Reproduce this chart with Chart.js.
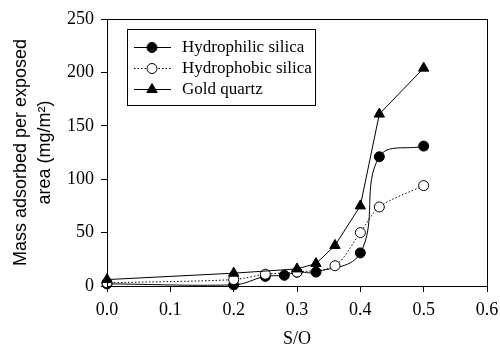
<!DOCTYPE html>
<html>
<head>
<meta charset="utf-8">
<script src="https://cdn.jsdelivr.net/npm/chart.js@4/dist/chart.umd.min.js"></script>
<style>
  html, body { margin: 0; padding: 0; background: #fff; }
  #wrap { width: 500px; height: 348px; position: relative; }
</style>
</head>
<body>
<div id="wrap"><canvas id="chart"></canvas></div>
<script>
// S/O ratios and adsorbed mass (mg/m2)
const philicX = [0, 0.2, 0.25, 0.28, 0.30, 0.33, 0.40, 0.43, 0.50]
const philicY = [2, 1, 9, 10, 13, 13, 31, 121, 131]
const phobicX = [0, 0.2, 0.25, 0.30, 0.36, 0.40, 0.43, 0.50]
const phobicY = [3, 6, 11, 13, 19, 50, 74, 94]
const goldX = [0, 0.2, 0.30, 0.33, 0.36, 0.40, 0.43, 0.50]
const goldY = [6, 12, 16, 21, 38, 75, 161, 204]

const seriesLabels = ["Hydrophilic silica", "Hydrophobic silica", "Gold quartz"]
const xTicks = [0, 0.1, 0.2, 0.3, 0.4, 0.5, 0.6]
const yTicks = [0, 50, 100, 150, 200, 250]
const yTitle = ["Mass adsorbed per exposed", "area (mg/m\u00B2)"]
const xTitle = "S/O"

const pts = (xs, ys) => xs.map((x, i) => ({ x: x, y: ys[i] }))
const serif = "'Liberation Serif', 'Times New Roman', serif"

// frame + custom legend box (line sample with marker in the middle)
const framePlugin = {
  id: "frame",
  afterDatasetsDraw(chart) {
    const { ctx, chartArea: a } = chart
    ctx.save()
    ctx.strokeStyle = "#000"
    ctx.lineWidth = 1
    ctx.strokeRect(a.left + 0.5, a.top + 0.5, a.right - a.left, a.bottom - a.top)

    // legend
    const bx = 127, by = 29, bw = 188, bh = 76
    ctx.fillStyle = "#fff"
    ctx.fillRect(bx, by, bw, bh)
    ctx.strokeRect(bx + 0.5, by + 0.5, bw, bh)
    ctx.font = "17px " + serif
    ctx.textBaseline = "middle"
    chart.data.datasets.forEach((ds, i) => {
      const y = 47 + i * 21
      ctx.strokeStyle = "#000"
      ctx.lineWidth = 1
      ctx.setLineDash(ds.borderDash || [])
      ctx.beginPath()
      ctx.moveTo(134, y + 0.5)
      ctx.lineTo(171, y + 0.5)
      ctx.stroke()
      ctx.setLineDash([])
      ctx.fillStyle = ds.pointBackgroundColor
      ctx.strokeStyle = "#000"
      Chart.helpers.drawPoint(ctx, {
        pointStyle: ds.pointStyle,
        radius: ds.pointRadius,
        rotation: 0,
        borderWidth: 1,
      }, 152, y + 0.5)
      ctx.fillStyle = "#000"
      ctx.fillText(ds.label, 182, y + 1)
    })
    ctx.restore()
  },
}

new Chart(document.getElementById("chart"), {
  type: "scatter",
  data: {
    datasets: [
      {
        label: seriesLabels[0],
        data: pts(philicX, philicY),
        showLine: true,
        borderColor: "#000",
        borderWidth: 1,
        tension: 0.4,
        pointStyle: "circle",
        pointRadius: 5,
        pointBackgroundColor: "#000",
        pointBorderColor: "#000",
        pointBorderWidth: 1,
        clip: false,
        order: 2,
      },
      {
        label: seriesLabels[1],
        data: pts(phobicX, phobicY),
        showLine: true,
        borderColor: "#000",
        borderWidth: 1,
        borderDash: [1.5, 2],
        tension: 0.3,
        pointStyle: "circle",
        pointRadius: 5,
        pointBackgroundColor: "#fff",
        pointBorderColor: "#000",
        pointBorderWidth: 1,
        clip: false,
        order: 1,
      },
      {
        label: seriesLabels[2],
        data: pts(goldX, goldY),
        showLine: true,
        borderColor: "#000",
        borderWidth: 1,
        tension: 0,
        pointStyle: "triangle",
        pointRadius: 6,
        pointBackgroundColor: "#000",
        pointBorderColor: "#000",
        pointBorderWidth: 1,
        clip: false,
        order: 0,
      },
    ],
  },
  options: {
    responsive: true,
    maintainAspectRatio: false,
    animation: false,
    devicePixelRatio: 1,
    layout: { padding: { top: 19, right: 13, left: 0, bottom: 0 } },
    plugins: {
      legend: { display: false },
      tooltip: { enabled: false },
    },
    scales: {
      x: {
        type: "linear",
        min: 0,
        max: 0.6,
        afterFit: (s) => {
          s.height = 62
          s.paddingLeft = 0
          s.paddingRight = 0
        },
        afterBuildTicks: (s) => { s.ticks = xTicks.map((v) => ({ value: v })) },
        grid: { drawOnChartArea: false, tickLength: 6, color: "#000" },
        border: { color: "#000" },
        ticks: {
          color: "#000",
          font: { family: serif, size: 18 },
          padding: 7,
          maxRotation: 0,
          callback: (v) => Number(v).toFixed(1),
        },
        title: {
          display: true,
          text: xTitle,
          color: "#000",
          font: { family: serif, size: 18, lineHeight: 1 },
          padding: { top: 0, bottom: 0 },
        },
      },
      y: {
        type: "linear",
        min: 0,
        max: 250,
        afterFit: (s) => {
          s.width = 107
          s.paddingTop = 0
          s.paddingBottom = 0
        },
        afterBuildTicks: (s) => { s.ticks = yTicks.map((v) => ({ value: v })) },
        grid: { drawOnChartArea: false, tickLength: 6, color: "#000" },
        border: { color: "#000" },
        ticks: {
          color: "#000",
          font: { family: serif, size: 18 },
          padding: 7,
        },
        title: {
          display: true,
          text: yTitle,
          color: "#000",
          font: { family: "'Liberation Sans', Arial, sans-serif", size: 18, lineHeight: 1.35 },
          padding: { top: 9, bottom: 0 },
        },
      },
    },
  },
  plugins: [framePlugin],
})
</script>
</body>
</html>
